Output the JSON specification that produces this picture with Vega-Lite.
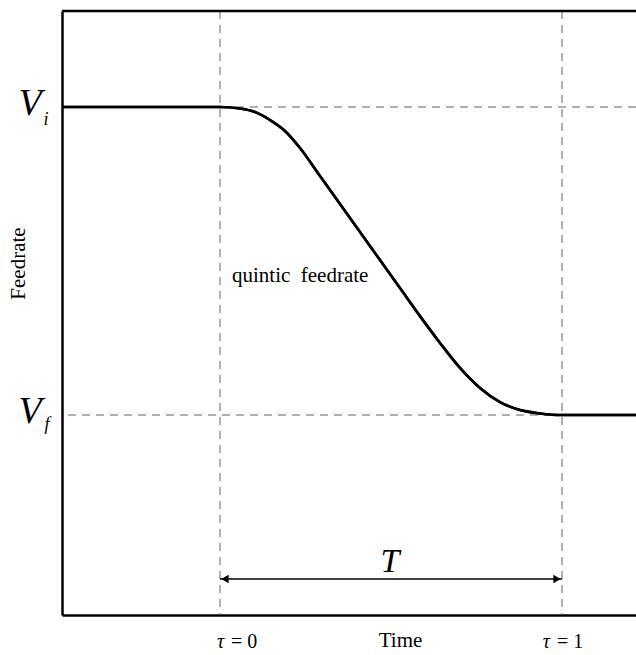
{
  "$schema": "https://vega.github.io/schema/vega-lite/v6.json",
  "width": 574,
  "height": 604,
  "autosize": {"type": "none"},
  "padding": {"left": 62, "top": 11, "right": 0, "bottom": 40},
  "background": "white",
  "config": {
    "view": {"stroke": null},
    "font": "Liberation Serif"
  },
  "datasets": {
    "curve": [
      {"tau": -0.46199, "v": 1},
      {"tau": 0, "v": 1},
      {"tau": 0.0585, "v": 0.9951},
      {"tau": 0.1023, "v": 0.9838},
      {"tau": 0.1462, "v": 0.9578},
      {"tau": 0.1901, "v": 0.9221},
      {"tau": 0.2339, "v": 0.8669},
      {"tau": 0.2924, "v": 0.776},
      {"tau": 0.3509, "v": 0.685},
      {"tau": 0.4094, "v": 0.594},
      {"tau": 0.4678, "v": 0.503},
      {"tau": 0.5263, "v": 0.412},
      {"tau": 0.5848, "v": 0.321},
      {"tau": 0.6433, "v": 0.234},
      {"tau": 0.7018, "v": 0.153},
      {"tau": 0.7602, "v": 0.088},
      {"tau": 0.8187, "v": 0.042},
      {"tau": 0.8772, "v": 0.016},
      {"tau": 0.9357, "v": 0.005},
      {"tau": 1, "v": 0},
      {"tau": 1.21637, "v": 0}
    ],
    "vlines": [{"tau": 0}, {"tau": 1}],
    "hlines": [{"v": 1}, {"v": 0}],
    "top": [{"v": 1.31169}],
    "span": [{"t0": 0, "t1": 1, "v": -0.5325}],
    "heads": [
      {"tau": 0.0146, "v": -0.5325, "shape": "triangle-left"},
      {"tau": 0.9854, "v": -0.5325, "shape": "triangle-right"}
    ],
    "vlabels": [{"tau": -0.46199, "v": 1, "s": "V"}, {"tau": -0.46199, "v": 0, "s": "V"}],
    "sub_i": [{"tau": -0.46199, "v": 1, "s": "i"}],
    "sub_f": [{"tau": -0.46199, "v": 0, "s": "f"}],
    "tlabel": [{"tau": 0.497, "v": -0.5325, "s": "T"}],
    "curvelabel": [{"tau": 0.035, "v": 0.4318, "s": "quintic\u00a0\u00a0feedrate"}],
    "tausym": [{"tau": 0.047, "v": -0.7565, "s": "τ"}, {"tau": 1, "v": -0.7565, "s": "τ"}],
    "taueq": [{"tau": 0.047, "v": -0.7565, "s": "= 0"}, {"tau": 1, "v": -0.7565, "s": "= 1"}]
  },
  "layer": [
    {
      "data": {"name": "curve"},
      "mark": {"type": "line", "color": "black", "strokeWidth": 2.6, "interpolate": "monotone"},
      "encoding": {
        "x": {
          "field": "tau", "type": "quantitative",
          "scale": {"domain": [-0.46199, 1.21637], "nice": false, "zero": false},
          "axis": {
            "domain": true, "domainColor": "black", "domainWidth": 2.5,
            "ticks": false, "labels": false, "grid": false,
            "title": "Time", "titleFont": "Liberation Serif", "titleFontSize": 21,
            "titleFontWeight": "normal", "titleColor": "black",
            "titleX": 338, "titleY": 25, "titleBaseline": "middle", "titleAlign": "center"
          }
        },
        "y": {
          "field": "v", "type": "quantitative",
          "scale": {"domain": [-0.64935, 1.31169], "nice": false, "zero": false},
          "axis": {
            "domain": true, "domainColor": "black", "domainWidth": 2.5,
            "ticks": false, "labels": false, "grid": false,
            "title": "Feedrate", "titleFont": "Liberation Serif", "titleFontSize": 21,
            "titleFontWeight": "normal", "titleColor": "black",
            "titleX": -44, "titleY": 252, "titleAngle": 270, "titleBaseline": "middle", "titleAlign": "center"
          }
        }
      }
    },
    {
      "data": {"name": "vlines"},
      "mark": {"type": "rule", "color": "#606060", "strokeWidth": 1, "strokeDash": [8, 6]},
      "encoding": {
        "x": {"field": "tau", "type": "quantitative"}
      }
    },
    {
      "data": {"name": "hlines"},
      "mark": {"type": "rule", "color": "#606060", "strokeWidth": 1, "strokeDash": [8, 6]},
      "encoding": {
        "y": {"field": "v", "type": "quantitative"}
      }
    },
    {
      "data": {"name": "top"},
      "mark": {"type": "rule", "color": "black", "strokeWidth": 2.5},
      "encoding": {
        "y": {"field": "v", "type": "quantitative"}
      }
    },
    {
      "data": {"name": "curve"},
      "mark": {"type": "line", "color": "black", "strokeWidth": 2.6, "interpolate": "monotone"},
      "encoding": {
        "x": {"field": "tau", "type": "quantitative"},
        "y": {"field": "v", "type": "quantitative"}
      }
    },
    {
      "data": {"name": "span"},
      "mark": {"type": "rule", "color": "black", "strokeWidth": 1.5},
      "encoding": {
        "x": {"field": "t0", "type": "quantitative"},
        "x2": {"field": "t1"},
        "y": {"field": "v", "type": "quantitative"}
      }
    },
    {
      "data": {"name": "heads"},
      "mark": {"type": "point", "filled": true, "color": "black", "opacity": 1, "size": 70},
      "encoding": {
        "x": {"field": "tau", "type": "quantitative"},
        "y": {"field": "v", "type": "quantitative"},
        "shape": {"field": "shape", "type": "nominal", "scale": null, "legend": null}
      }
    },
    {
      "data": {"name": "vlabels"},
      "mark": {"type": "text", "font": "Liberation Serif", "fontStyle": "italic", "fontSize": 38, "align": "center", "baseline": "alphabetic", "dx": -32, "dy": 8, "color": "black"},
      "encoding": {
        "x": {"field": "tau", "type": "quantitative"},
        "y": {"field": "v", "type": "quantitative"},
        "text": {"field": "s"}
      }
    },
    {
      "data": {"name": "sub_i"},
      "mark": {"type": "text", "font": "Liberation Serif", "fontStyle": "italic", "fontSize": 18, "align": "center", "baseline": "alphabetic", "dx": -16, "dy": 18, "color": "black"},
      "encoding": {
        "x": {"field": "tau", "type": "quantitative"},
        "y": {"field": "v", "type": "quantitative"},
        "text": {"field": "s"}
      }
    },
    {
      "data": {"name": "sub_f"},
      "mark": {"type": "text", "font": "Liberation Serif", "fontStyle": "italic", "fontSize": 18, "align": "center", "baseline": "alphabetic", "dx": -15, "dy": 15, "color": "black"},
      "encoding": {
        "x": {"field": "tau", "type": "quantitative"},
        "y": {"field": "v", "type": "quantitative"},
        "text": {"field": "s"}
      }
    },
    {
      "data": {"name": "tlabel"},
      "mark": {"type": "text", "font": "Liberation Serif", "fontStyle": "italic", "fontSize": 34, "align": "center", "baseline": "alphabetic", "dy": -7, "color": "black"},
      "encoding": {
        "x": {"field": "tau", "type": "quantitative"},
        "y": {"field": "v", "type": "quantitative"},
        "text": {"field": "s"}
      }
    },
    {
      "data": {"name": "curvelabel"},
      "mark": {"type": "text", "font": "Liberation Serif", "fontSize": 21, "align": "left", "baseline": "alphabetic", "color": "black"},
      "encoding": {
        "x": {"field": "tau", "type": "quantitative"},
        "y": {"field": "v", "type": "quantitative"},
        "text": {"field": "s"}
      }
    },
    {
      "data": {"name": "tausym"},
      "mark": {"type": "text", "font": "Liberation Serif", "fontStyle": "italic", "fontSize": 20, "align": "right", "baseline": "alphabetic", "dx": -12, "color": "black"},
      "encoding": {
        "x": {"field": "tau", "type": "quantitative"},
        "y": {"field": "v", "type": "quantitative"},
        "text": {"field": "s"}
      }
    },
    {
      "data": {"name": "taueq"},
      "mark": {"type": "text", "font": "Liberation Serif", "fontSize": 20, "align": "left", "baseline": "alphabetic", "dx": -5, "color": "black"},
      "encoding": {
        "x": {"field": "tau", "type": "quantitative"},
        "y": {"field": "v", "type": "quantitative"},
        "text": {"field": "s"}
      }
    }
  ]
}
